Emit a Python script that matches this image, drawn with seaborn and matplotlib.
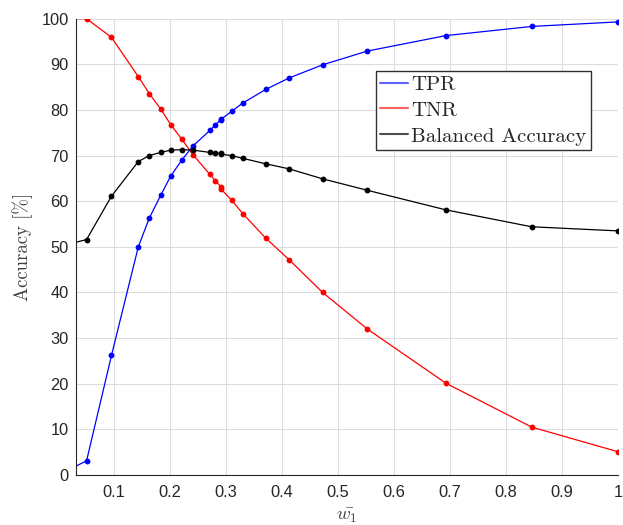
import matplotlib
matplotlib.use("Agg")
import matplotlib.pyplot as plt
import seaborn as sns
import pandas as pd
from matplotlib.lines import Line2D

# data
w1 = [0.0, 0.051, 0.0955, 0.1434, 0.163, 0.1834, 0.2012, 0.221, 0.241, 0.271, 0.281,
      0.2906, 0.2916, 0.3102, 0.3298, 0.371, 0.4125, 0.4726, 0.5523, 0.6929, 0.8459, 1.0]
tpr = [0.0, 3.1, 26.2, 50.0, 56.3, 61.3, 65.5, 69.0, 72.1, 75.5, 76.7,
       77.9, 78.0, 79.7, 81.5, 84.5, 87.0, 89.9, 92.9, 96.3, 98.3, 99.3]
tnr = [100.0, 100.0, 95.9, 87.3, 83.6, 80.2, 76.8, 73.6, 70.2, 65.9, 64.5,
       63.2, 62.6, 60.2, 57.3, 51.9, 47.2, 40.0, 32.0, 20.1, 10.5, 5.1]
bal = [50.0, 51.6, 61.1, 68.7, 70.0, 70.7, 71.2, 71.3, 71.2, 70.7, 70.6,
       70.5, 70.3, 70.0, 69.4, 68.2, 67.1, 64.9, 62.4, 58.1, 54.4, 53.5]
series_names = ["TPR", "TNR", "Balanced Accuracy"]
series_colors = ["#0000ff", "#ff0000", "#000000"]
legend_colors = ["#6060ff", "#ff6060", "#505050"]
xticks = [0.1, 0.2, 0.3, 0.4, 0.5, 0.6, 0.7, 0.8, 0.9, 1.0]
xticklabels = ["0.1", "0.2", "0.3", "0.4", "0.5", "0.6", "0.7", "0.8", "0.9", "1"]
yticks = list(range(0, 101, 10))

sns.set_style("white")
plt.rcParams["font.family"] = ["Liberation Sans", "DejaVu Sans"]
plt.rcParams["mathtext.fontset"] = "cm"

fig = plt.figure(figsize=(6.23, 5.25), dpi=100)
ax = fig.add_axes([0.1215, 0.0952, 0.992 - 0.1215, 0.9644 - 0.0952])

df = pd.DataFrame({"w": w1, "TPR": tpr, "TNR": tnr, "Balanced Accuracy": bal})
for name, col in zip(series_names, series_colors):
    sns.lineplot(data=df, x="w", y=name, ax=ax, color=col, marker="o",
                 markersize=4.2, markeredgewidth=0, linewidth=0.9, sort=False,
                 clip_on=True, legend=False)

ax.set_xlim(0.0316, 1.0)
ax.set_ylim(0, 100)
ax.set_xticks(xticks)
ax.set_xticklabels(xticklabels)
ax.set_yticks(yticks)
ax.tick_params(axis="both", direction="in", length=4, width=0.8, colors="#262626",
               labelsize=11.8)
ax.tick_params(axis="x", pad=7)
ax.tick_params(axis="y", pad=5)
ax.grid(True, color="#dddddd", linewidth=0.8)
ax.set_axisbelow(True)
for s in ["top", "right"]:
    ax.spines[s].set_visible(False)
for s in ["left", "bottom"]:
    ax.spines[s].set_color("#262626")
    ax.spines[s].set_linewidth(0.8)

ax.set_ylabel("Accuracy [%]", family="cmr10", fontsize=13.5, color="#404040", labelpad=6)
ax.set_xlabel(r"$\bar{w_1}$", fontsize=13.5, color="#404040", labelpad=5)

handles = [Line2D([0], [0], color=c, linewidth=1.5) for c in legend_colors]
leg = ax.legend(handles, series_names, loc="upper left", bbox_to_anchor=(0.553, 0.886),
                borderaxespad=0, fancybox=False, frameon=True, framealpha=1,
                edgecolor="#303030", prop={"family": "cmr10", "size": 15},
                handlelength=1.35, handletextpad=0.15, borderpad=0.22, labelspacing=0.35)
leg.get_frame().set_linewidth(1.0)

fig.savefig("out.png", dpi=100)
